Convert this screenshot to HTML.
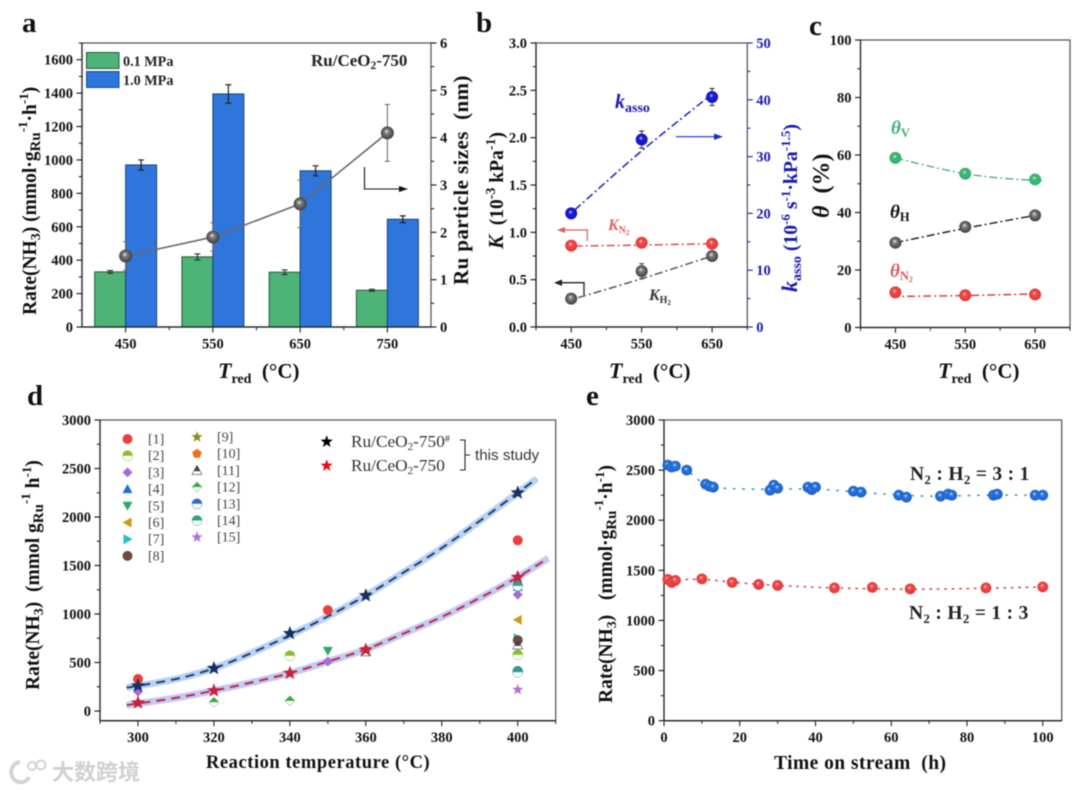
<!DOCTYPE html>
<html lang="en">
<head>
<meta charset="utf-8">
<title>Ru/CeO2-750 ammonia synthesis rate figure</title>
<style>
html,body{margin:0;padding:0;background:#fff;width:1080px;height:791px;overflow:hidden}
svg{display:block;filter:blur(0.55px)}
text{font-family:"Liberation Serif","Noto Serif CJK SC",serif}
.b{font-weight:bold}
.i{font-style:italic}
.letter{font-size:29px;font-weight:bold;fill:#111}
.title{font-size:19.5px;font-weight:bold;fill:#111}
</style>
</head>
<body>
<svg id="figure" xmlns="http://www.w3.org/2000/svg" width="1080" height="791" viewBox="0 0 1080 791">
<defs>
<radialGradient id="ball-gray" cx="50%" cy="50%" r="55%" fx="42%" fy="36%"><stop offset="0" stop-color="#f0f0f0"/><stop offset=".3" stop-color="#808080"/><stop offset=".75" stop-color="#505050"/><stop offset="1" stop-color="#3a3a3a"/></radialGradient>
<radialGradient id="ball-red" cx="50%" cy="50%" r="55%" fx="42%" fy="36%"><stop offset="0" stop-color="#fde0e0"/><stop offset=".3" stop-color="#ee4b4b"/><stop offset="1" stop-color="#e03434"/></radialGradient>
<radialGradient id="ball-blue" cx="50%" cy="50%" r="55%" fx="42%" fy="36%"><stop offset="0" stop-color="#e3efff"/><stop offset=".3" stop-color="#2a76e0"/><stop offset="1" stop-color="#1a5cc8"/></radialGradient>
<radialGradient id="ball-navy" cx="50%" cy="50%" r="55%" fx="42%" fy="36%"><stop offset="0" stop-color="#e0e0ff"/><stop offset=".3" stop-color="#1c1cd6"/><stop offset="1" stop-color="#1212c0"/></radialGradient>
<radialGradient id="ball-green" cx="50%" cy="50%" r="55%" fx="42%" fy="36%"><stop offset="0" stop-color="#dff7ea"/><stop offset=".3" stop-color="#3fb877"/><stop offset="1" stop-color="#34ae6c"/></radialGradient>
</defs>
<rect x="0" y="0" width="1080" height="791" fill="#fff"/>

<g id="panel-a"></g>
<g id="panel-b"></g>
<g id="panel-c"></g>
<g id="panel-d"></g>
<g id="panel-e"></g>

<!-- panel letters -->
<text class="letter" x="22" y="32">a</text>
<text class="letter" x="476" y="32">b</text>
<text class="letter" x="809" y="35">c</text>
<text class="letter" x="27" y="405">d</text>
<text class="letter" x="586" y="405">e</text>

<!-- panel a annotations -->
<text class="title" font-size="20" transform="translate(36,315) rotate(-90)">Rate(NH<tspan font-size="14" dy="4">3</tspan><tspan dy="-4">)&#160;(mmol·g</tspan><tspan font-size="15" dy="4">Ru</tspan><tspan font-size="13" dy="-13">-1</tspan><tspan dy="9">·h</tspan><tspan font-size="13" dy="-8">-1</tspan><tspan dy="8">)</tspan></text>
<text class="title" style="font-size:21px;letter-spacing:.4px" transform="translate(468,285) rotate(-90)">Ru particle sizes&#160;&#160;(nm)</text>
<text class="title" x="218" y="378"><tspan class="i" font-size="22">T</tspan><tspan font-size="14" dy="5">red</tspan><tspan dy="-5" font-size="21">&#160;&#160;(°C)</tspan></text>
<rect x="86.5" y="52.5" width="32.5" height="16" fill="#4db377" stroke="#245c3a" stroke-width="1"/>
<rect x="86.5" y="71.5" width="32.5" height="16" fill="#2f76dc" stroke="#1c4a8c" stroke-width="1"/>
<text class="b" x="123" y="66" font-size="14.2" fill="#222">0.1 MPa</text>
<text class="b" x="123" y="85" font-size="14.2" fill="#222">1.0 MPa</text>
<text class="b" x="311" y="66" font-size="17" fill="#222">Ru/CeO<tspan font-size="11.5" dy="3">2</tspan><tspan dy="-3">-750</tspan></text>
<path d="M364.5 167V189H402" fill="none" stroke="#111" stroke-width="1.1"/>
<polygon points="399,186 408,189 399,192" fill="#111"/>

<!-- panel b annotations -->
<text class="title" transform="translate(503,249) rotate(-90)"><tspan class="i" font-size="21">K</tspan>&#160;&#160;(10<tspan font-size="14" dy="-8">-3</tspan><tspan dy="8"> kPa</tspan><tspan font-size="14" dy="-8">-1</tspan><tspan dy="8">)</tspan></text>
<text class="b" transform="translate(797,292) rotate(-90)" font-size="19.7" fill="#1a1ab0"><tspan class="i" font-size="22">k</tspan><tspan font-size="14" dy="4">asso</tspan><tspan dy="-4"> (10</tspan><tspan font-size="13" dy="-7">-6</tspan><tspan dy="7"> s</tspan><tspan font-size="13" dy="-7">-1</tspan><tspan dy="7">·kPa</tspan><tspan font-size="13" dy="-7">-1.5</tspan><tspan dy="7">)</tspan></text>
<text class="title" x="609" y="378"><tspan class="i" font-size="22">T</tspan><tspan font-size="14" dy="5">red</tspan><tspan dy="-5" font-size="21">&#160;&#160;(°C)</tspan></text>
<text class="b" x="615" y="108" font-size="20" fill="#1a1ab0"><tspan class="i">k</tspan><tspan font-size="14" dy="4">asso</tspan></text>
<text class="b" x="608" y="230" font-size="16" fill="#e06060"><tspan class="i">K</tspan><tspan font-size="10" dy="3">N</tspan><tspan font-size="7" dy="2">2</tspan></text>
<text class="b" x="649" y="300" font-size="16" fill="#333"><tspan class="i">K</tspan><tspan font-size="10" dy="3">H</tspan><tspan font-size="7" dy="2">2</tspan></text>
<path d="M676 136.7H718" fill="none" stroke="#1a2fd0" stroke-width="1.2"/>
<polygon points="714,133.5 723,136.7 714,140" fill="#1a2fd0"/>
<path d="M587.3 241V230H561" fill="none" stroke="#d96060" stroke-width="1.2"/>
<polygon points="565,227 557,230 565,233" fill="#d96060"/>
<path d="M584 295V282.7H558" fill="none" stroke="#222" stroke-width="1.3"/>
<polygon points="562,279.5 554,282.7 562,286" fill="#222"/>

<!-- panel c annotations -->
<text class="title" style="font-size:24px" transform="translate(829,218) rotate(-90)"><tspan class="i" font-size="24">θ</tspan>&#160;&#160;(%)</text>
<text class="title" x="938" y="378"><tspan class="i" font-size="22">T</tspan><tspan font-size="14" dy="5">red</tspan><tspan dy="-5" font-size="21">&#160;&#160;(°C)</tspan></text>
<text class="b" x="891" y="134" font-size="19" fill="#3fae78"><tspan class="i">θ</tspan><tspan font-size="12.5" dy="3">V</tspan></text>
<text class="b" x="890" y="218" font-size="19" fill="#111"><tspan class="i">θ</tspan><tspan font-size="12.5" dy="3">H</tspan></text>
<text class="b" x="890" y="277" font-size="19" fill="#d95c5c"><tspan class="i">θ</tspan><tspan font-size="12.5" dy="3">N</tspan><tspan font-size="8" dy="2">2</tspan></text>

<!-- panel d annotations -->
<text class="title" font-size="19" transform="translate(39,690) rotate(-90)">Rate(NH<tspan font-size="14" dy="4">3</tspan><tspan dy="-4">)&#160;&#160;(mmol g</tspan><tspan font-size="15" dy="4">Ru</tspan><tspan font-size="13" dy="-13">-1</tspan><tspan dy="9"> h</tspan><tspan font-size="13" dy="-8">-1</tspan><tspan dy="8">)</tspan></text>
<text class="b" x="206" y="768" font-size="18.5" letter-spacing=".55" fill="#111">Reaction temperature (°C)</text>
<text x="351" y="447" font-size="17.3" fill="#333">Ru/CeO<tspan font-size="11" dy="3">2</tspan><tspan dy="-3">-750</tspan><tspan font-size="10" dy="-5">#</tspan></text>
<text x="351" y="471" font-size="17.3" fill="#333">Ru/CeO<tspan font-size="11" dy="3">2</tspan><tspan dy="-3">-750</tspan></text>
<path d="M460 440H465V470H460M465 455H470" fill="none" stroke="#222" stroke-width="1.1"/>
<text x="475" y="460" font-size="15.2" fill="#333" style="font-family:'Liberation Sans',sans-serif">this study</text>

<!-- panel e annotations -->
<text class="title" transform="translate(612,703) rotate(-90)">Rate(NH<tspan font-size="14" dy="4">3</tspan><tspan dy="-4">)&#160;&#160;&#160;(mmol·g</tspan><tspan font-size="15" dy="4">Ru</tspan><tspan font-size="13" dy="-13">-1</tspan><tspan dy="9">·h</tspan><tspan font-size="13" dy="-8">-1</tspan><tspan dy="8">)</tspan></text>
<text class="b" x="774" y="769" font-size="19.5" letter-spacing=".45" fill="#111">Time on stream&#160;&#160;(h)</text>
<text class="b" x="910" y="480" font-size="19.5" fill="#222" letter-spacing=".3">N<tspan font-size="13" dy="4">2</tspan><tspan dy="-4"> : H</tspan><tspan font-size="13" dy="4">2</tspan><tspan dy="-4"> = 3 : 1</tspan></text>
<text class="b" x="909" y="619" font-size="19.5" fill="#222" letter-spacing=".3">N<tspan font-size="13" dy="4">2</tspan><tspan dy="-4"> : H</tspan><tspan font-size="13" dy="4">2</tspan><tspan dy="-4"> = 1 : 3</tspan></text>

<!-- watermark -->
<g>
<path d="M20 762C9 763 8 780 19 782C24 783 28 780 29 777" fill="none" stroke="#d4d4d4" stroke-width="4"/>
<circle cx="32" cy="766" r="4" fill="none" stroke="#d4d4d4" stroke-width="2"/>
<circle cx="41" cy="765" r="4.5" fill="none" stroke="#d4d4d4" stroke-width="2"/>
<text x="52" y="780" font-size="22" font-weight="bold" fill="#d0d0d0" style="font-family:'Liberation Sans','Noto Sans CJK SC',sans-serif">大数跨境</text>
</g>
</svg>

<script>
/* ---------- panel a data ---------- */
const aCategories = ['450', '550', '650', '750'];
const aRateLow = [330, 420, 328, 220];
const aRateLowErr = [8, 18, 14, 6];
const aRateHigh = [970, 1395, 935, 645];
const aRateHighErr = [30, 55, 30, 20];
const aSize = [1.5, 1.9, 2.6, 4.1];
const aSizeErr = [0.3, 0.3, 0.5, 0.6];
const aLeftTicks = [0, 200, 400, 600, 800, 1000, 1200, 1400, 1600];
const aLeftMinor = [100, 300, 500, 700, 900, 1100, 1300, 1500, 1700];
const aRightTicks = [0, 1, 2, 3, 4, 5, 6];
const aRightMinor = [0.5, 1.5, 2.5, 3.5, 4.5, 5.5];

/* ---------- panel b data ---------- */
const bTemps = [450, 550, 650];
const bKasso = [20, 33, 40.5];
const bKassoErr = [0.6, 1.5, 1.5];
const bKn2 = [0.86, 0.89, 0.88];
const bKh2 = [0.30, 0.59, 0.75];
const bKh2Err = [0.03, 0.08, 0.03];
const bKassoFitT = [455, 550, 650];
const bKassoFit = [20.6, 31, 41];
const bKn2FitT = [455, 550, 650];
const bKn2Fit = [0.855, 0.865, 0.88];
const bKh2FitT = [460, 550, 650];
const bKh2Fit = [0.31, 0.51, 0.75];
const bLeftTicks = [0, 0.5, 1, 1.5, 2, 2.5, 3];
const bLeftLabels = ['0.0', '0.5', '1.0', '1.5', '2.0', '2.5', '3.0'];
const bRightTicks = [0, 10, 20, 30, 40, 50];
const bRightMinor = [5, 15, 25, 35, 45];
const bXMinor = [400, 500, 600, 700];

/* ---------- panel c data ---------- */
const cTemps = [450, 550, 650];
const cThetaV = [59, 53.5, 51.5];
const cThetaH = [29.5, 35, 39];
const cThetaN = [12.2, 11.2, 11.5];
const cFitVT = [450, 500, 550, 600, 660];
const cFitV = [59, 56, 53.5, 52, 51];
const cFitHT = [450, 550, 650];
const cFitH = [29.5, 34.5, 39];
const cFitNT = [444, 550, 650];
const cFitN = [10.8, 11.1, 11.7];
const cTicks = [0, 20, 40, 60, 80, 100];
const cMinor = [10, 30, 50, 70, 90];

/* ---------- panel d data ---------- */
const dStudyTemps = [300, 320, 340, 360, 400];
const dStudyHigh = [260, 440, 800, 1190, 2250];
const dStudyLow = [85, 210, 390, 630, 1380];
const dFitHighT = [297, 310, 320, 330, 340, 350, 360, 370, 380, 390, 400, 405];
const dFitHigh = [240, 330, 440, 600, 780, 975, 1190, 1430, 1680, 1960, 2250, 2395];
const dFitLowT = [297, 310, 320, 330, 340, 350, 360, 370, 380, 390, 400, 408];
const dFitLow = [60, 135, 210, 295, 390, 510, 635, 800, 970, 1165, 1380, 1575];
const dRefLabels = ['[1]', '[2]', '[3]', '[4]', '[5]', '[6]', '[7]', '[8]', '[9]', '[10]', '[11]', '[12]', '[13]', '[14]', '[15]'];
const dRefTemps = [[300, 350, 400], [340, 400], [300, 350, 400], [400], [350, 400], [400], [400], [400], [360], [360], [400, 360], [320, 340], [400], [400, 400], [400]];
const dRefRates = [[330, 1040, 1760], [570, 580], [200, 510, 1200], [1280], [620, 1270], [940], [750], [730], [640], [625], [680, 610], [90, 105], [410], [400, 1290], [220]];
const dYTicks = [0, 500, 1000, 1500, 2000, 2500, 3000];
const dYMinor = [250, 750, 1250, 1750, 2250, 2750];
const dXTicks = [300, 320, 340, 360, 380, 400];
const dXMinor = [290, 310, 330, 350, 370, 390, 410];

/* ---------- panel e data ---------- */
const eBlueT = [1, 2, 3, 6, 11, 12, 13, 28, 29, 30, 38, 39, 40, 50, 52, 62, 64, 73, 75, 76, 87, 88, 98, 100];
const eBlueRate = [2550, 2530, 2540, 2500, 2360, 2340, 2330, 2300, 2350, 2320, 2330, 2305, 2330, 2290, 2280, 2250, 2230, 2240, 2260, 2250, 2250, 2260, 2250, 2250];
const eRedT = [1, 2, 3, 10, 18, 25, 30, 45, 55, 65, 85, 100];
const eRedRate = [1410, 1380, 1400, 1415, 1380, 1360, 1350, 1325, 1330, 1315, 1325, 1335];
const eBlueFitT = [0, 6, 10, 14, 25, 40, 55, 70, 85, 100];
const eBlueFit = [2550, 2490, 2380, 2325, 2310, 2310, 2270, 2240, 2250, 2250];
const eRedFitT = [0, 10, 20, 30, 45, 65, 85, 100];
const eRedFit = [1400, 1410, 1375, 1350, 1325, 1312, 1322, 1335];
const eYTicks = [0, 500, 1000, 1500, 2000, 2500, 3000];
const eYMinor = [250, 750, 1250, 1750, 2250, 2750];
const eXTicks = [0, 20, 40, 60, 80, 100];
const eXMinor = [10, 30, 50, 70, 90];

/* ---------- helpers ---------- */
const NS = 'http://www.w3.org/2000/svg';
function mk(parent, tag, name, attrs, txt) {
  const e = document.createElementNS(NS, tag);
  
  
  for (const k in attrs) e.setAttribute(k, attrs[k]);
  if (txt !== undefined) e.textContent = txt;
  parent.appendChild(e);
  return e;
}
function linear(d0, d1, r0, r1) { return v => r0 + (v - d0) / (d1 - d0) * (r1 - r0); }
function frame(g, prefix, x0, x1, yTop, yBot) {
  mk(g, 'rect', prefix + '-plot-frame', { x: x0, y: yTop, width: x1 - x0, height: yBot - yTop, fill: 'none', stroke: '#5a5a5a', 'stroke-width': 1.3 });
  mk(g, 'line', prefix + '-x-axis-line', { x1: x0, x2: x1, y1: yBot, y2: yBot, stroke: '#222', 'stroke-width': 1.3 });
  mk(g, 'line', prefix + '-y-axis-line', { x1: x0, x2: x0, y1: yTop, y2: yBot, stroke: '#333', 'stroke-width': 1.3 });
}
function yTicks(g, prefix, sy, pos, dir, major, minor, fmt, color) {
  major.forEach((v, i) => {
    mk(g, 'line', prefix + '-tick', { x1: pos, x2: pos + dir * 5.5, y1: sy(v), y2: sy(v), stroke: color, 'stroke-width': 1.1 });
    mk(g, 'text', prefix + '-tick-label', { x: pos + dir * 9, y: sy(v) + 5, 'text-anchor': dir < 0 ? 'end' : 'start', 'font-size': 14.5, 'font-weight': 'bold', fill: color }, fmt ? fmt[i] : String(v));
  });
  minor.forEach(v => {
    mk(g, 'line', prefix + '-minor-tick', { x1: pos, x2: pos + dir * 3.2, y1: sy(v), y2: sy(v), stroke: color, 'stroke-width': 1 });
  });
}
function xTicks(g, prefix, sx, pos, major, labels, minor) {
  major.forEach((v, i) => {
    mk(g, 'line', prefix + '-tick', { x1: sx(v), x2: sx(v), y1: pos, y2: pos + 5.5, stroke: '#222', 'stroke-width': 1.1 });
    mk(g, 'text', prefix + '-tick-label', { x: sx(v), y: pos + 21.5, 'text-anchor': 'middle', 'font-size': 14.5, 'font-weight': 'bold', fill: '#111' }, labels[i]);
  });
  minor.forEach(v => {
    mk(g, 'line', prefix + '-minor-tick', { x1: sx(v), x2: sx(v), y1: pos, y2: pos + 3.2, stroke: '#222', 'stroke-width': 1 });
  });
}
function smooth(xs, ys) {
  const p = xs.map((x, i) => [x, ys[i]]);
  let d = 'M' + p[0][0] + ' ' + p[0][1];
  for (let i = 0; i < p.length - 1; i++) {
    const a = p[Math.max(i - 1, 0)], b = p[i], c = p[i + 1], e = p[Math.min(i + 2, p.length - 1)];
    d += 'C' + (b[0] + (c[0] - a[0]) / 6) + ' ' + (b[1] + (c[1] - a[1]) / 6) + ' ' + (c[0] - (e[0] - b[0]) / 6) + ' ' + (c[1] - (e[1] - b[1]) / 6) + ' ' + c[0] + ' ' + c[1];
  }
  return d;
}
function fit(g, name, tx, ty, sx, sy, stroke, dash, width, cap) {
  return mk(g, 'path', name, { d: smooth(tx.map(sx), ty.map(sy)), fill: 'none', stroke: stroke, 'stroke-width': width, 'stroke-dasharray': dash, 'stroke-linecap': cap || 'butt' });
}
function err(g, name, x, yHi, yLo, color, cap, w) {
  mk(g, 'path', name, { d: 'M' + (x - cap) + ' ' + yHi + 'H' + (x + cap) + 'M' + x + ' ' + yHi + 'V' + yLo + 'M' + (x - cap) + ' ' + yLo + 'H' + (x + cap), fill: 'none', stroke: color, 'stroke-width': w || 1 });
}
function ball(g, name, x, y, r, grad) {
  mk(g, 'circle', name, { cx: x, cy: y, r: r, fill: 'url(#' + grad + ')' });
}
function starPoints(cx, cy, R) {
  const pts = [];
  for (let i = 0; i < 10; i++) {
    const r = i % 2 ? R * 0.42 : R;
    const a = -Math.PI / 2 + i * Math.PI / 5;
    pts.push((cx + r * Math.cos(a)).toFixed(2) + ',' + (cy + r * Math.sin(a)).toFixed(2));
  }
  return pts.join(' ');
}
const refShapes = ['circle', 'halfTop', 'diamond', 'up', 'down', 'left', 'right', 'circle', 'star', 'pent', 'upHollow', 'halfLeft', 'halfTop', 'halfTop', 'star'];
const refColors = ['#e8413c', '#8cbb2a', '#a96bd6', '#1f6fd0', '#2fa86a', '#cf9a1a', '#1fc0c8', '#6e4a42', '#8a8a20', '#f0701a', '#444', '#3fa640', '#2a70c8', '#2fa080', '#b070d8'];
function marker(g, name, shape, x, y, color) {
  const r = 5;
  if (shape === 'circle') mk(g, 'circle', name, { cx: x, cy: y, r: r, fill: color });
  else if (shape === 'diamond') mk(g, 'polygon', name, { points: [x, y - r, x + r, y, x, y + r, x - r, y].join(' '), fill: color });
  else if (shape === 'up') mk(g, 'polygon', name, { points: [x, y - r, x + r, y + r * .8, x - r, y + r * .8].join(' '), fill: color });
  else if (shape === 'upHollow') {
    mk(g, 'polygon', name, { points: [x, y - r, x + r, y + r * .8, x - r, y + r * .8].join(' '), fill: '#fff', stroke: color, 'stroke-width': .6 });
    mk(g, 'polygon', name + '-fill', { points: [x, y - r, x + r * .6, y + .8, x - r * .6, y + .8].join(' '), fill: color });
  }
  else if (shape === 'down') mk(g, 'polygon', name, { points: [x - r, y - r * .8, x + r, y - r * .8, x, y + r].join(' '), fill: color });
  else if (shape === 'left') mk(g, 'polygon', name, { points: [x - r, y, x + r * .8, y - r, x + r * .8, y + r].join(' '), fill: color });
  else if (shape === 'right') mk(g, 'polygon', name, { points: [x + r, y, x - r * .8, y - r, x - r * .8, y + r].join(' '), fill: color });
  else if (shape === 'star') mk(g, 'polygon', name, { points: starPoints(x, y, r + .8), fill: color });
  else if (shape === 'pent') {
    const p = [];
    for (let i = 0; i < 5; i++) { const a = -Math.PI / 2 + i * 2 * Math.PI / 5; p.push((x + r * Math.cos(a)).toFixed(2) + ',' + (y + r * Math.sin(a)).toFixed(2)); }
    mk(g, 'polygon', name, { points: p.join(' '), fill: color });
  }
  else if (shape === 'halfTop') {
    mk(g, 'circle', name + '-outline', { cx: x, cy: y, r: r, fill: '#fff', stroke: color, 'stroke-width': .5 });
    mk(g, 'path', name, { d: 'M' + (x - r) + ' ' + y + 'A' + r + ' ' + r + ' 0 0 1 ' + (x + r) + ' ' + y + 'Z', fill: color });
  }
  else if (shape === 'halfLeft') {
    mk(g, 'polygon', name + '-outline', { points: [x, y - r, x + r, y, x, y + r, x - r, y].join(' '), fill: '#fff', stroke: color, 'stroke-width': .5 });
    mk(g, 'polygon', name, { points: [x, y - r, x + r, y, x - r, y].join(' '), fill: color });
  }
}

/* ---------- panel a ---------- */
(function () {
  const g = document.getElementById('panel-a');
  const X0 = 82, X1 = 431, T = 43, B = 327;
  const step = (X1 - X0) / aCategories.length;
  const cx = i => X0 + (i + 0.5) * step;
  const sy = linear(0, 1700, B, T);
  const sr = linear(0, 6, B, T);
  const bw = 0.355 * step;
  aCategories.forEach((c, i) => {
    mk(g, 'rect', 'bar-0-1-mpa-' + c, { x: cx(i) - bw, y: sy(aRateLow[i]), width: bw, height: B - sy(aRateLow[i]), fill: '#4db377', stroke: '#245c3a', 'stroke-width': 1 });
    mk(g, 'rect', 'bar-1-0-mpa-' + c, { x: cx(i), y: sy(aRateHigh[i]), width: bw, height: B - sy(aRateHigh[i]), fill: '#2f76dc', stroke: '#173f7c', 'stroke-width': 1 });
    err(g, 'error-bar-0-1-mpa-' + c, cx(i) - bw / 2, sy(aRateLow[i] + aRateLowErr[i]), sy(aRateLow[i] - aRateLowErr[i]), '#222', 3);
    err(g, 'error-bar-1-0-mpa-' + c, cx(i) + bw / 2, sy(aRateHigh[i] + aRateHighErr[i]), sy(aRateHigh[i] - aRateHighErr[i]), '#222', 3, 1.2);
  });
  frame(g, 'a', X0, X1, T, B);
  yTicks(g, 'a-left', sy, X0, -1, aLeftTicks, aLeftMinor, null, '#111');
  yTicks(g, 'a-right', sr, X1, 1, aRightTicks, aRightMinor, null, '#111');
  const boundaries = aCategories.slice(1).map((c, i) => i + 0.5);
  xTicks(g, 'a-x', v => cx(v), B, aCategories.map((c, i) => i), aCategories, boundaries);
  mk(g, 'polyline', 'particle-size-line', { points: aSize.map((v, i) => cx(i) + ',' + sr(v)).join(' '), fill: 'none', stroke: '#6a6a6a', 'stroke-width': 1.6 });
  aSize.forEach((v, i) => {
    err(g, 'particle-size-error-' + aCategories[i], cx(i), sr(v + aSizeErr[i]), sr(v - aSizeErr[i]), '#666', 2.6);
    ball(g, 'particle-size-point-' + aCategories[i], cx(i), sr(v), 6.5, 'ball-gray');
  });
})();

/* ---------- panel b ---------- */
(function () {
  const g = document.getElementById('panel-b');
  const X0 = 536, X1 = 747.3, T = 43, B = 327;
  const sx = linear(400, 700, X0, X1);
  const sl = linear(0, 3, B, T);
  const sr = linear(0, 50, B, T);
  frame(g, 'b', X0, X1, T, B);
  yTicks(g, 'b-left', sl, X0, -1, bLeftTicks, [0.25, 0.75, 1.25, 1.75, 2.25, 2.75], bLeftLabels, '#111');
  yTicks(g, 'b-right', sr, X1, 1, bRightTicks, bRightMinor, null, '#1a1ab0');
  xTicks(g, 'b-x', sx, B, bTemps, bTemps.map(String), bXMinor);
  const dash = '8 3 2 3';
  fit(g, 'kasso-fit-line', bKassoFitT, bKassoFit, sx, sr, '#1a1ac0', dash, 1.5);
  fit(g, 'kn2-fit-line', bKn2FitT, bKn2Fit, sx, sl, '#d95050', dash, 1.5);
  fit(g, 'kh2-fit-line', bKh2FitT, bKh2Fit, sx, sl, '#555', dash, 1.5);
  bTemps.forEach((t, i) => {
    err(g, 'kasso-error', sx(t), sr(bKasso[i] + bKassoErr[i]), sr(bKasso[i] - bKassoErr[i]), '#222', 2.5);
    err(g, 'kh2-error', sx(t), sl(bKh2[i] + bKh2Err[i]), sl(bKh2[i] - bKh2Err[i]), '#444', 2.5);
    ball(g, 'kasso-point-' + t, sx(t), sr(bKasso[i]), 6, 'ball-navy');
    ball(g, 'kn2-point-' + t, sx(t), sl(bKn2[i]), 6, 'ball-red');
    ball(g, 'kh2-point-' + t, sx(t), sl(bKh2[i]), 6, 'ball-gray');
  });
})();

/* ---------- panel c ---------- */
(function () {
  const g = document.getElementById('panel-c');
  const X0 = 860.5, X1 = 1070, T = 40, B = 327.5;
  const sx = linear(400, 700, X0, X1);
  const sy = linear(0, 100, B, T);
  frame(g, 'c', X0, X1, T, B);
  yTicks(g, 'c-y', sy, X0, -1, cTicks, cMinor, null, '#111');
  xTicks(g, 'c-x', sx, B, cTemps, cTemps.map(String), bXMinor);
  const dash = '8 3 2 3';
  fit(g, 'theta-v-fit-line', cFitVT, cFitV, sx, sy, '#3fae78', dash, 1.3);
  fit(g, 'theta-h-fit-line', cFitHT, cFitH, sx, sy, '#222', dash, 1.5);
  fit(g, 'theta-n2-fit-line', cFitNT, cFitN, sx, sy, '#d94040', dash, 1.5);
  cTemps.forEach((t, i) => {
    ball(g, 'theta-v-point-' + t, sx(t), sy(cThetaV[i]), 6, 'ball-green');
    ball(g, 'theta-h-point-' + t, sx(t), sy(cThetaH[i]), 6, 'ball-gray');
    ball(g, 'theta-n2-point-' + t, sx(t), sy(cThetaN[i]), 6, 'ball-red');
  });
})();

/* ---------- panel d ---------- */
(function () {
  const g = document.getElementById('panel-d');
  const X0 = 100, X1 = 555.7, T = 420, B = 720.7;
  const sx = linear(290, 410, X0, X1);
  const sy = linear(-100, 3000, B, T);
  frame(g, 'd', X0, X1, T, B);
  yTicks(g, 'd-y', sy, X0, -1, dYTicks, dYMinor, null, '#111');
  xTicks(g, 'd-x', sx, B, dXTicks, dXTicks.map(String), dXMinor);
  fit(g, 'fit-halo-ru-ceo2-750-hash', dFitHighT, dFitHigh, sx, sy, '#bcd2f2', 'none', 7);
  fit(g, 'fit-halo-ru-ceo2-750', dFitLowT, dFitLow, sx, sy, '#c4caf0', 'none', 7);
  fit(g, 'fit-line-ru-ceo2-750-hash', dFitHighT, dFitHigh, sx, sy, '#1c3f78', '9 6', 2);
  fit(g, 'fit-line-ru-ceo2-750', dFitLowT, dFitLow, sx, sy, '#b8284e', '9 6', 2);
  dRefLabels.forEach((lab, i) => {
    dRefTemps[i].forEach((t, j) => {
      marker(g, 'reference-point-' + (i + 1), refShapes[i], sx(t), sy(dRefRates[i][j]), refColors[i]);
    });
    const col2 = i >= 8;
    const k = col2 ? i - 8 : i;
    const ly = (col2 ? 437 : 439) + k * 16.7;
    const lx = col2 ? 197 : 127.5;
    marker(g, 'legend-marker-ref-' + (i + 1), refShapes[i], lx, ly, refColors[i]);
    mk(g, 'text', 'legend-label-ref-' + (i + 1), { x: col2 ? 217 : 148, y: ly + 4.5, 'font-size': 14, fill: '#444' }, lab);
  });
  dStudyTemps.forEach((t, i) => {
    mk(g, 'polygon', 'star-ru-ceo2-750-' + t, { points: starPoints(sx(t), sy(dStudyLow[i]), 7.5), fill: '#c8203e' });
    mk(g, 'polygon', 'star-ru-ceo2-750-hash-' + t, { points: starPoints(sx(t), sy(dStudyHigh[i]), 7.5), fill: '#16305f' });
  });
  mk(g, 'polygon', 'legend-star-ru-ceo2-750-hash', { points: starPoints(326.7, 441.7, 6.5), fill: '#000' });
  mk(g, 'polygon', 'legend-star-ru-ceo2-750', { points: starPoints(326.7, 465.7, 6.5), fill: '#e8101c' });
})();

/* ---------- panel e ---------- */
(function () {
  const g = document.getElementById('panel-e');
  const X0 = 664, X1 = 1061.7, T = 420, B = 720.7;
  const sx = linear(0, 105, X0, X1);
  const sy = linear(0, 3000, B, T);
  frame(g, 'e', X0, X1, T, B);
  yTicks(g, 'e-y', sy, X0, -1, eYTicks, eYMinor, null, '#111');
  xTicks(g, 'e-x', sx, B, eXTicks, eXTicks.map(String), eXMinor);
  fit(g, 'blue-fit-line', eBlueFitT, eBlueFit, sx, sy, '#3a9ab8', '1.4 8', 1.6, 'round');
  fit(g, 'red-fit-line', eRedFitT, eRedFit, sx, sy, '#d84a4a', '1.4 6', 1.6, 'round');
  eBlueT.forEach((t, i) => ball(g, 'blue-point', sx(t), sy(eBlueRate[i]), 5.4, 'ball-blue'));
  eRedT.forEach((t, i) => ball(g, 'red-point', sx(t), sy(eRedRate[i]), 5.4, 'ball-red'));
})();
</script>
</body>
</html>
